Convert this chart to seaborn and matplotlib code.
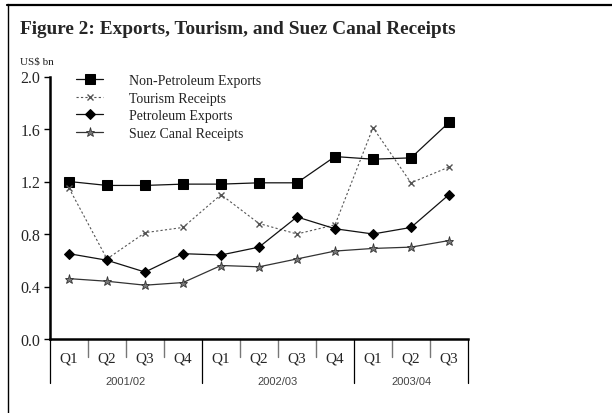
import matplotlib
matplotlib.use("Agg")
import matplotlib.pyplot as plt
from matplotlib.lines import Line2D
import seaborn as sns
import pandas as pd

quarters = ["Q1", "Q2", "Q3", "Q4", "Q1", "Q2", "Q3", "Q4", "Q1", "Q2", "Q3"]
years = ["2001/02", "2002/03", "2003/04"]
non_petroleum = [1.20, 1.17, 1.17, 1.18, 1.18, 1.19, 1.19, 1.39, 1.37, 1.38, 1.65]
tourism = [1.15, 0.61, 0.81, 0.85, 1.10, 0.88, 0.80, 0.87, 1.61, 1.19, 1.31]
petroleum = [0.65, 0.60, 0.51, 0.65, 0.64, 0.70, 0.93, 0.84, 0.80, 0.85, 1.10]
suez = [0.46, 0.44, 0.41, 0.43, 0.56, 0.55, 0.61, 0.67, 0.69, 0.70, 0.75]

sns.set_theme(style="white")
plt.rcParams["font.family"] = ["Liberation Serif", "DejaVu Serif"]

fig = plt.figure(figsize=(6.12, 4.14), dpi=100)
ax = fig.add_axes([50/612, 1 - 340/414, 418/612, 262.5/414])

pos = list(range(len(quarters)))
series = [
    ("Non-Petroleum Exports", non_petroleum, dict(color="#111111", marker="s", markersize=7, linestyle="-", linewidth=0.9, markerfacecolor="black", markeredgecolor="black")),
    ("Tourism Receipts", tourism, dict(color="#555555", marker="x", markersize=5, linestyle=(0, (2, 2)), linewidth=0.8, markeredgecolor="#555555", markeredgewidth=1.0)),
    ("Petroleum Exports", petroleum, dict(color="#111111", marker="D", markersize=5.5, linestyle="-", linewidth=0.9, markerfacecolor="black", markeredgecolor="black")),
    ("Suez Canal Receipts", suez, dict(color="#333333", marker="*", markersize=6.5, linestyle="-", linewidth=0.9, markerfacecolor="#777777", markeredgecolor="#333333", markeredgewidth=0.6)),
]
for name, vals, kw in series:
    df = pd.DataFrame({"pos": pos, "val": vals})
    sns.lineplot(data=df, x="pos", y="val", ax=ax, label=name, **kw)

ax.set_xlim(-0.5, len(quarters) - 0.5)
ax.set_ylim(0, 2.0)
ax.set_yticks([0.0, 0.4, 0.8, 1.2, 1.6, 2.0])
ax.set_yticklabels(["0.0", "0.4", "0.8", "1.2", "1.6", "2.0"], fontsize=11.5)
ax.set_xticks(pos)
ax.set_xticklabels(quarters, fontsize=11)
ax.tick_params(axis="x", length=0, pad=9)
ax.tick_params(axis="y", length=4, width=1, direction="out", left=True, pad=3, color="black")
ax.set_xlabel("")
ax.set_ylabel("")
for s in ["top", "right"]:
    ax.spines[s].set_visible(False)
for s in ["left", "bottom"]:
    ax.spines[s].set_linewidth(1.8)
    ax.spines[s].set_color("black")

# category separators below axis
trans = ax.get_xaxis_transform()
for i in range(len(quarters) + 1):
    x = i - 0.5
    if i in (0, 4, 8, 11):
        ax.plot([x, x], [0, -44/262.5], transform=trans, color="black", linewidth=0.9, clip_on=False)
    else:
        ax.plot([x, x], [0, -18/262.5], transform=trans, color="#777777", linewidth=1.0, clip_on=False)
for j, (yr, c) in enumerate(zip(years, [1.5, 5.5, 9.0])):
    ax.text(c, -42/262.5, yr, transform=trans, ha="center", va="center",
            fontsize=8, color="#444444", family=["Liberation Sans", "DejaVu Sans"])

leg = ax.legend(loc="upper left", bbox_to_anchor=(0.05, 1.03), frameon=False, fontsize=10,
                handlelength=1.9, handletextpad=1.9, labelspacing=0.33, borderaxespad=0)
for t in leg.get_texts():
    t.set_color("#222222")

fig.text(20/612, 1 - 30/414, "Figure 2: Exports, Tourism, and Suez Canal Receipts",
         fontsize=13.9, fontweight="bold", va="center", ha="left")
fig.text(20/612, 1 - 62/414, "US$ bn", fontsize=8, va="center", ha="left", color="#222222")

# outer frame (top and left)
fig.add_artist(Line2D([7/612, 1.0], [1 - 5.5/414, 1 - 5.5/414], color="black", linewidth=1.6, transform=fig.transFigure))
fig.add_artist(Line2D([8/612, 8/612], [1 - 5/414, 0], color="black", linewidth=1.0, transform=fig.transFigure))

fig.savefig("out.png", dpi=100)
